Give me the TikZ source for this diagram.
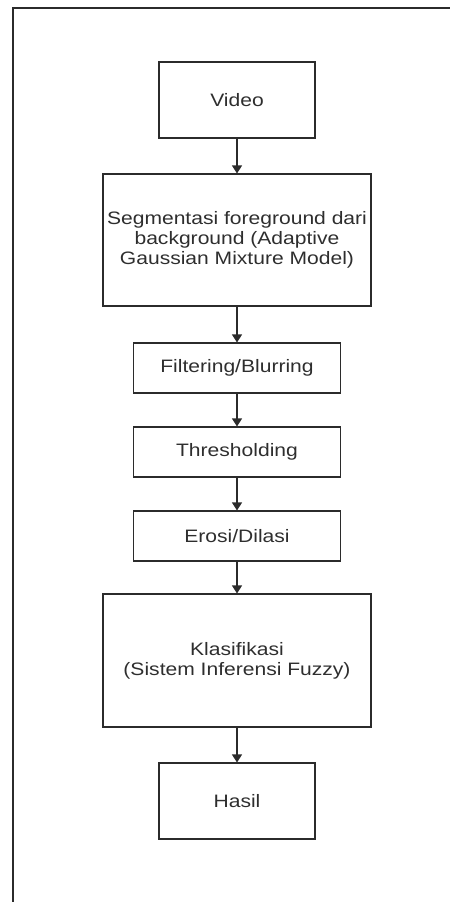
\documentclass[tikz,border=0pt]{standalone}
\usepackage{fontspec}
\setmainfont[FakeStretch=1.17]{Liberation Sans}
\usepackage{xcolor}
\usepackage{tikz}
\usetikzlibrary{arrows.meta}
\definecolor{ink}{HTML}{2B2B2B}
\definecolor{txt}{HTML}{2E2E2E}
\tikzset{
  frame/.style={draw=ink, line width=1.1pt},
  box/.style={draw=ink, line width=1.1pt, text=txt, align=center, inner sep=0pt,
    font=\fontsize{18}{20}\selectfont},
  flow/.style={draw=ink, line width=1.1pt, -{Triangle[length=8pt,width=10pt]}},
}
\begin{document}
\begin{tikzpicture}[x=1pt,y=-1pt]
  \useasboundingbox (0,0) rectangle (450,902);
  \draw[frame] (13,902) -- (13,8) -- (450,8);

  \node[box, minimum width=156, minimum height=76] (video) at (237,100) {Video};
  \node[box, minimum width=268, minimum height=132] (segm) at (237,240)
    {Segmentasi foreground dari\\background (Adaptive\\Gaussian Mixture Model)};
  \node[box, minimum width=207, minimum height=50] (filt) at (237,368) {Filtering/Blurring};
  \node[box, minimum width=207, minimum height=50] (thres) at (237,452) {Thresholding};
  \node[box, minimum width=207, minimum height=50] (eros) at (237,536) {Erosi/Dilasi};
  \node[box, minimum width=268, minimum height=133] (klas) at (237,660.5)
    {Klasifikasi\\(Sistem Inferensi Fuzzy)};
  \node[box, minimum width=156, minimum height=76] (hasil) at (237,801) {Hasil};

  \draw[flow] (video) -- (segm);
  \draw[flow] (segm) -- (filt);
  \draw[flow] (filt) -- (thres);
  \draw[flow] (thres) -- (eros);
  \draw[flow] (eros) -- (klas);
  \draw[flow] (klas) -- (hasil);
\end{tikzpicture}
\end{document}
